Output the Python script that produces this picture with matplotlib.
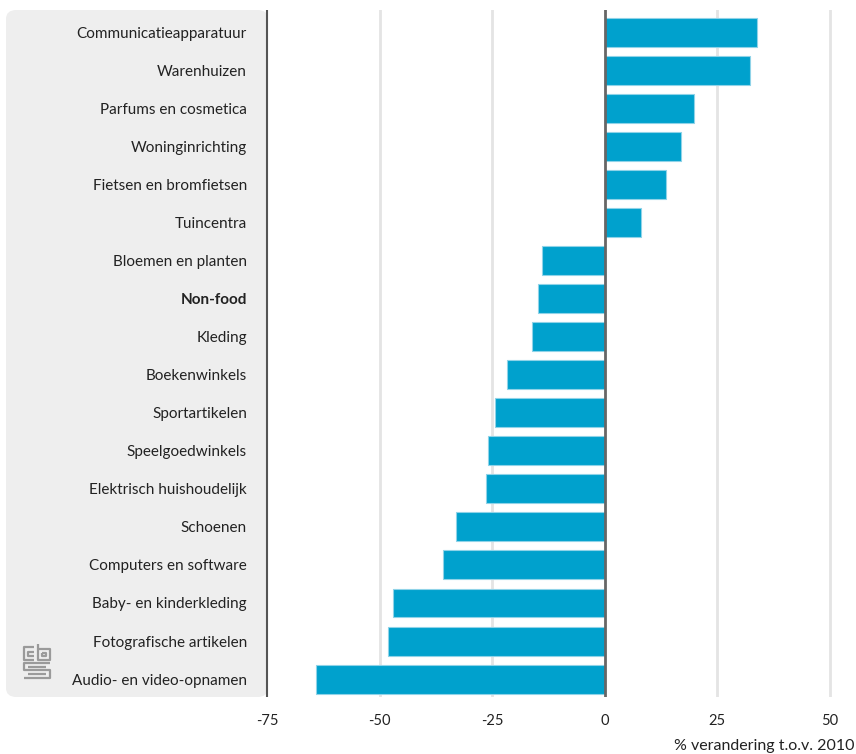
import matplotlib.pyplot as plt
from matplotlib.patches import FancyBboxPatch

categories = ['Communicatieapparatuur', 'Warenhuizen', 'Parfums en cosmetica',
              'Woninginrichting', 'Fietsen en bromfietsen', 'Tuincentra',
              'Bloemen en planten', 'Non-food', 'Kleding', 'Boekenwinkels',
              'Sportartikelen', 'Speelgoedwinkels', 'Elektrisch huishoudelijk',
              'Schoenen', 'Computers en software', 'Baby- en kinderkleding',
              'Fotografische artikelen', 'Audio- en video-opnamen']
values = [33.8, 32.4, 19.8, 17.1, 13.6, 8.0, -13.8, -14.7, -16.2, -21.6,
          -24.4, -26.0, -26.4, -33.1, -35.8, -46.9, -48.2, -64.2]
xticks = [-75, -50, -25, 0, 25, 50]
xlabel = '% verandering t.o.v. 2010'

plt.rcParams['font.family'] = ['Lato', 'DejaVu Sans']

W, H = 856, 754
fig = plt.figure(figsize=(W / 100, H / 100), dpi=100)

# grey label panel behind the tick labels
panel = FancyBboxPatch((6 / W, 1 - 697 / H), (268 - 6) / W, (697 - 10) / H,
                       boxstyle='round,pad=0,rounding_size=0.012',
                       transform=fig.transFigure, facecolor='#eeeeee',
                       edgecolor='none', zorder=-5)
fig.patches.append(panel)

ax = fig.add_axes([267 / W, 1 - 697 / H, (852 - 267) / W, (697 - 10) / H])
ax.patch.set_alpha(0)

y = list(range(len(categories)))
ax.barh(y, values, height=0.76, color='#00a1cd', edgecolor='#8fd3e8',
        linewidth=0.8, zorder=3)
ax.axvline(0, color='#666666', lw=2, zorder=4)

ax.set_xlim(-75, 55)
ax.set_ylim(17.47, -0.58)
ax.set_xticks(xticks)
ax.set_xticklabels([str(t) for t in xticks])
for t in xticks[1:]:
    if t != 0:
        ax.axvline(t, color='#e4e4e4', lw=2, zorder=1)

ax.set_yticks(y)
ax.set_yticklabels(categories)
for lab in ax.get_yticklabels():
    if lab.get_text() == 'Non-food':
        lab.set_fontweight('bold')

ax.tick_params(axis='y', length=0, pad=14.5, labelsize=11, colors='#222222')
ax.tick_params(axis='x', length=0, pad=12, labelsize=10.5, colors='#222222')
for s in ['top', 'right', 'bottom']:
    ax.spines[s].set_visible(False)
ax.spines['left'].set_color('#555555')
ax.spines['left'].set_linewidth(1.5)
ax.spines['left'].set_capstyle('butt')

fig.text(855 / W, 1 - 746 / H, xlabel, ha='right', va='center',
         fontsize=11.5, color='#222222')

# small cbs logo in the panel
lg = fig.add_axes([22 / W, 1 - 681 / H, 30 / W, 38 / H])
lg.set_xlim(0, 30)
lg.set_ylim(38, 0)
lg.axis('off')
kw = dict(color='#9a9a9a', lw=1.6, solid_capstyle='butt')
lg.plot([12, 2, 2, 12], [4, 4, 17, 17], **kw)
lg.plot([12, 6, 6, 12], [9, 9, 13, 13], **kw)
lg.plot([16, 16, 28, 28, 16], [1, 17, 17, 6, 6], **kw)
lg.plot([20, 24, 24, 20, 20], [10, 10, 13, 13, 10], **kw)
lg.plot([28, 2, 2, 28, 28, 2], [20, 20, 27, 27, 35, 35], **kw)
lg.plot([24, 6, 6], [23.5, 23.5, 24], **kw)
lg.plot([6, 24, 24], [31, 31, 30.5], **kw)

fig.savefig('out.png', dpi=100)
